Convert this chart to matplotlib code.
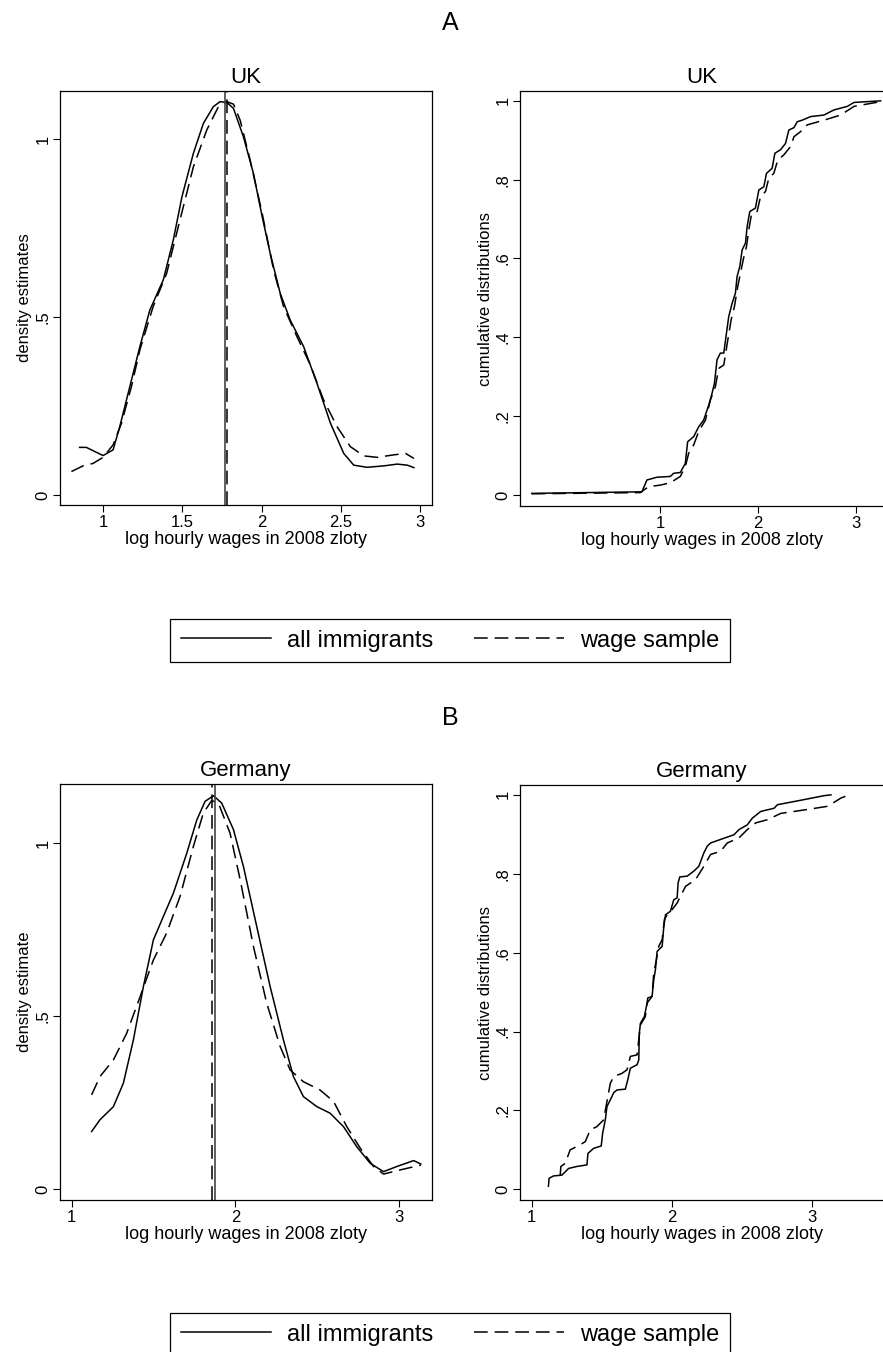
import matplotlib
matplotlib.use("Agg")
import matplotlib.pyplot as plt
from matplotlib.lines import Line2D

plt.rcParams['font.family'] = ['Liberation Sans', 'DejaVu Sans']

# ---- data ----
# panel A, UK: kernel density estimates
uk_dens_all_x = [0.852, 0.894, 1.0, 1.063, 1.105, 1.158, 1.232, 1.295, 1.380, 1.443, 1.498, 1.570,
                 1.633, 1.696, 1.738, 1.781, 1.823, 1.886, 1.949, 2.004, 2.055, 2.118, 2.181, 2.266,
                 2.350, 2.435, 2.519, 2.582, 2.667, 2.772, 2.857, 2.920, 2.962]
uk_dens_all_y = [0.134, 0.134, 0.111, 0.127, 0.192, 0.286, 0.417, 0.520, 0.605, 0.717, 0.839, 0.961,
                 1.045, 1.092, 1.106, 1.104, 1.087, 1.007, 0.904, 0.783, 0.679, 0.567, 0.492, 0.417,
                 0.314, 0.202, 0.117, 0.084, 0.078, 0.082, 0.087, 0.084, 0.077]
uk_dens_wage_x = [0.800, 0.873, 0.937, 1.0, 1.063, 1.116, 1.179, 1.232, 1.316, 1.401, 1.485, 1.570,
                  1.654, 1.728, 1.781, 1.823, 1.865, 1.928, 2.004, 2.076, 2.139, 2.224, 2.308, 2.392,
                  2.477, 2.561, 2.646, 2.730, 2.835, 2.909, 2.962]
uk_dens_wage_y = [0.066, 0.082, 0.089, 0.106, 0.141, 0.202, 0.305, 0.408, 0.530, 0.623, 0.773, 0.923,
                  1.026, 1.092, 1.106, 1.099, 1.054, 0.942, 0.792, 0.633, 0.530, 0.445, 0.366, 0.267,
                  0.192, 0.136, 0.110, 0.106, 0.113, 0.117, 0.103]
uk_mean_all = 1.768
uk_mean_wage = 1.782

# panel A, UK: cumulative distributions
uk_cdf_all_x = [-0.316, 0.812, 0.863, 0.966, 1.103, 1.137, 1.205, 1.256, 1.280, 1.342, 1.393, 1.444,
                1.496, 1.530, 1.554, 1.581, 1.615, 1.650, 1.677, 1.701, 1.735, 1.769, 1.786, 1.814,
                1.838, 1.872, 1.889, 1.916, 1.974, 2.009, 2.060, 2.087, 2.145, 2.173, 2.231, 2.282,
                2.316, 2.368, 2.402, 2.453, 2.538, 2.675, 2.778, 2.915, 2.983, 3.256]
uk_cdf_all_y = [0.004, 0.008, 0.038, 0.045, 0.047, 0.055, 0.057, 0.080, 0.135, 0.148, 0.173, 0.190,
                0.228, 0.258, 0.283, 0.343, 0.360, 0.360, 0.410, 0.453, 0.486, 0.512, 0.554, 0.580,
                0.622, 0.639, 0.681, 0.719, 0.728, 0.774, 0.782, 0.816, 0.829, 0.867, 0.876, 0.892,
                0.926, 0.932, 0.947, 0.951, 0.960, 0.964, 0.977, 0.986, 0.996, 1.0]
uk_cdf_wage_x = [-0.316, 0.795, 0.880, 1.0, 1.103, 1.205, 1.256, 1.291, 1.342, 1.393, 1.462, 1.513,
                 1.564, 1.598, 1.650, 1.691, 1.725, 1.759, 1.793, 1.821, 1.848, 1.882, 1.906, 1.933,
                 1.991, 2.026, 2.077, 2.111, 2.162, 2.203, 2.265, 2.333, 2.368, 2.436, 2.504, 2.675,
                 2.846, 2.983, 3.256]
uk_cdf_wage_y = [0.003, 0.006, 0.021, 0.025, 0.031, 0.047, 0.072, 0.106, 0.127, 0.161, 0.190, 0.241,
                 0.275, 0.321, 0.330, 0.393, 0.444, 0.478, 0.529, 0.563, 0.596, 0.630, 0.673, 0.711,
                 0.719, 0.757, 0.770, 0.804, 0.816, 0.850, 0.863, 0.884, 0.909, 0.922, 0.939, 0.951,
                 0.964, 0.986, 0.998]

# panel B, Germany: kernel density estimates
de_dens_all_x = [1.122, 1.173, 1.255, 1.316, 1.377, 1.438, 1.499, 1.560, 1.621, 1.703, 1.764, 1.815,
                 1.866, 1.916, 1.988, 2.049, 2.130, 2.212, 2.293, 2.354, 2.415, 2.497, 2.578, 2.660,
                 2.741, 2.823, 2.904, 2.986, 3.088, 3.132]
de_dens_all_y = [0.167, 0.201, 0.239, 0.307, 0.432, 0.586, 0.721, 0.789, 0.856, 0.972, 1.068, 1.122,
                 1.138, 1.117, 1.040, 0.933, 0.760, 0.586, 0.432, 0.326, 0.268, 0.239, 0.220, 0.181,
                 0.123, 0.075, 0.051, 0.066, 0.083, 0.073]
de_dens_wage_x = [1.122, 1.173, 1.255, 1.336, 1.418, 1.499, 1.580, 1.662, 1.743, 1.804, 1.855, 1.896,
                  1.967, 2.029, 2.110, 2.191, 2.273, 2.334, 2.415, 2.517, 2.599, 2.680, 2.762, 2.843,
                  2.904, 3.006, 3.132]
de_dens_wage_y = [0.273, 0.326, 0.374, 0.451, 0.557, 0.663, 0.741, 0.847, 0.991, 1.088, 1.124, 1.117,
                  1.030, 0.895, 0.702, 0.538, 0.413, 0.345, 0.311, 0.287, 0.254, 0.181, 0.119, 0.066,
                  0.044, 0.056, 0.070]
de_mean_all = 1.873
de_mean_wage = 1.857

# panel B, Germany: cumulative distributions
de_cdf_all_x = [1.119, 1.124, 1.155, 1.215, 1.263, 1.322, 1.394, 1.401, 1.442, 1.496, 1.506, 1.525,
                1.537, 1.561, 1.585, 1.609, 1.668, 1.685, 1.704, 1.752, 1.764, 1.768, 1.776, 1.804,
                1.823, 1.859, 1.871, 1.883, 1.895, 1.931, 1.943, 1.955, 1.990, 2.014, 2.038, 2.045,
                2.057, 2.110, 2.158, 2.193, 2.229, 2.253, 2.277, 2.348, 2.444, 2.480, 2.539, 2.575,
                2.635, 2.730, 2.754, 2.945, 3.088, 3.136]
de_cdf_all_y = [0.008, 0.028, 0.034, 0.036, 0.053, 0.058, 0.062, 0.091, 0.104, 0.110, 0.142, 0.176,
                0.210, 0.227, 0.245, 0.252, 0.254, 0.277, 0.307, 0.316, 0.328, 0.396, 0.421, 0.438,
                0.472, 0.489, 0.531, 0.557, 0.603, 0.616, 0.667, 0.696, 0.705, 0.734, 0.739, 0.777,
                0.792, 0.794, 0.807, 0.819, 0.853, 0.870, 0.878, 0.887, 0.899, 0.912, 0.924, 0.941,
                0.958, 0.966, 0.975, 0.988, 0.998, 1.0]
de_cdf_wage_x = [1.203, 1.208, 1.239, 1.274, 1.346, 1.382, 1.418, 1.465, 1.513, 1.537, 1.561, 1.585,
                 1.644, 1.680, 1.704, 1.752, 1.764, 1.776, 1.811, 1.828, 1.859, 1.871, 1.890, 1.907,
                 1.931, 1.947, 1.967, 2.002, 2.038, 2.062, 2.098, 2.169, 2.229, 2.277, 2.348, 2.396,
                 2.480, 2.539, 2.599, 2.683, 2.778, 2.969, 3.112, 3.208, 3.267]
de_cdf_wage_y = [0.036, 0.058, 0.066, 0.100, 0.113, 0.121, 0.151, 0.159, 0.176, 0.223, 0.269, 0.286,
                 0.294, 0.303, 0.337, 0.341, 0.379, 0.417, 0.438, 0.485, 0.489, 0.548, 0.582, 0.616,
                 0.633, 0.684, 0.696, 0.709, 0.726, 0.743, 0.768, 0.785, 0.819, 0.849, 0.857, 0.878,
                 0.891, 0.912, 0.929, 0.937, 0.953, 0.963, 0.971, 0.992, 1.0]

dens_ticks = [0, 0.5, 1]
dens_labels = ['0', '.5', '1']
cdf_ticks = [0, 0.2, 0.4, 0.6, 0.8, 1]
cdf_labels = ['0', '.2', '.4', '.6', '.8', '1']
xlab = 'log hourly wages in 2008 zloty'
legend_labels = ['all immigrants', 'wage sample']

DASH = (0, (9, 4.5))
W, H = 883, 1352


def axes_px(left, top, right, bottom):
    return [left / W, 1 - bottom / H, (right - left) / W, (bottom - top) / H]


def style_axes(ax, title, ylabel, yticks, ylabels, xticks, xticklabels):
    ax.set_title(title, fontsize=16, pad=6)
    ax.set_ylabel(ylabel, fontsize=12, labelpad=2)
    ax.set_xlabel(xlab, fontsize=13, labelpad=1)
    ax.set_yticks(yticks)
    ax.set_yticklabels(ylabels, rotation=90, va='center', fontsize=12)
    ax.set_xticks(xticks)
    ax.set_xticklabels(xticklabels, fontsize=12)
    ax.tick_params(direction='out', length=5, width=0.8, pad=2)
    for s in ax.spines.values():
        s.set_linewidth(0.9)


fig = plt.figure(figsize=(W / 100, H / 100), dpi=100)

# UK density
ax = fig.add_axes(axes_px(60, 91, 432, 505))
ax.plot(uk_dens_all_x, uk_dens_all_y, color='black', lw=1.1)
ax.plot(uk_dens_wage_x, uk_dens_wage_y, color='black', lw=1.1, linestyle=DASH)
ax.axvline(uk_mean_all, color='#444444', lw=1.2)
ax.axvline(uk_mean_wage, color='black', lw=1.1, linestyle=DASH)
ax.set_xlim(0.728, 3.076)
ax.set_ylim(-0.028, 1.136)
style_axes(ax, 'UK', 'density estimates', dens_ticks, dens_labels,
           [1, 1.5, 2, 2.5, 3], ['1', '1.5', '2', '2.5', '3'])

# UK cdf
ax = fig.add_axes(axes_px(520, 91, 884, 506))
ax.plot(uk_cdf_all_x, uk_cdf_all_y, color='black', lw=1.1)
ax.plot(uk_cdf_wage_x, uk_cdf_wage_y, color='black', lw=1.1, linestyle=DASH)
ax.set_xlim(-0.436, 3.29)
ax.set_ylim(-0.028, 1.025)
style_axes(ax, 'UK', 'cumulative distributions', cdf_ticks, cdf_labels,
           [1, 2, 3], ['1', '2', '3'])

# Germany density
ax = fig.add_axes(axes_px(60, 784, 432, 1200))
ax.plot(de_dens_all_x, de_dens_all_y, color='black', lw=1.1)
ax.plot(de_dens_wage_x, de_dens_wage_y, color='black', lw=1.1, linestyle=DASH)
ax.axvline(de_mean_all, color='#444444', lw=1.2)
ax.axvline(de_mean_wage, color='black', lw=1.1, linestyle=DASH)
ax.set_xlim(0.929, 3.2)
ax.set_ylim(-0.031, 1.172)
style_axes(ax, 'Germany', 'density estimate', dens_ticks, dens_labels,
           [1, 2, 3], ['1', '2', '3'])

# Germany cdf
ax = fig.add_axes(axes_px(520, 785, 884, 1200))
ax.plot(de_cdf_all_x, de_cdf_all_y, color='black', lw=1.1)
ax.plot(de_cdf_wage_x, de_cdf_wage_y, color='black', lw=1.1, linestyle=DASH)
ax.set_xlim(0.916, 3.515)
ax.set_ylim(-0.027, 1.025)
style_axes(ax, 'Germany', 'cumulative distributions', cdf_ticks, cdf_labels,
           [1, 2, 3], ['1', '2', '3'])

# panel letters
fig.text(450 / W, 1 - 23 / H, 'A', fontsize=18, ha='center', va='center')
fig.text(450 / W, 1 - 718 / H, 'B', fontsize=18, ha='center', va='center')

# legends
handles = [Line2D([], [], color='black', lw=1.1),
           Line2D([], [], color='black', lw=1.1, linestyle=DASH)]
for cy in [640.5, 1334.5]:
    leg = fig.legend(handles, legend_labels, loc='center', bbox_to_anchor=(450 / W, 1 - cy / H),
                     ncol=2, fontsize=17, frameon=True, fancybox=False, framealpha=1,
                     edgecolor='black', handlelength=3.8, handletextpad=0.68,
                     columnspacing=1.74, borderpad=0.45)
    leg.get_frame().set_linewidth(0.9)

fig.savefig('out.png', dpi=100)
